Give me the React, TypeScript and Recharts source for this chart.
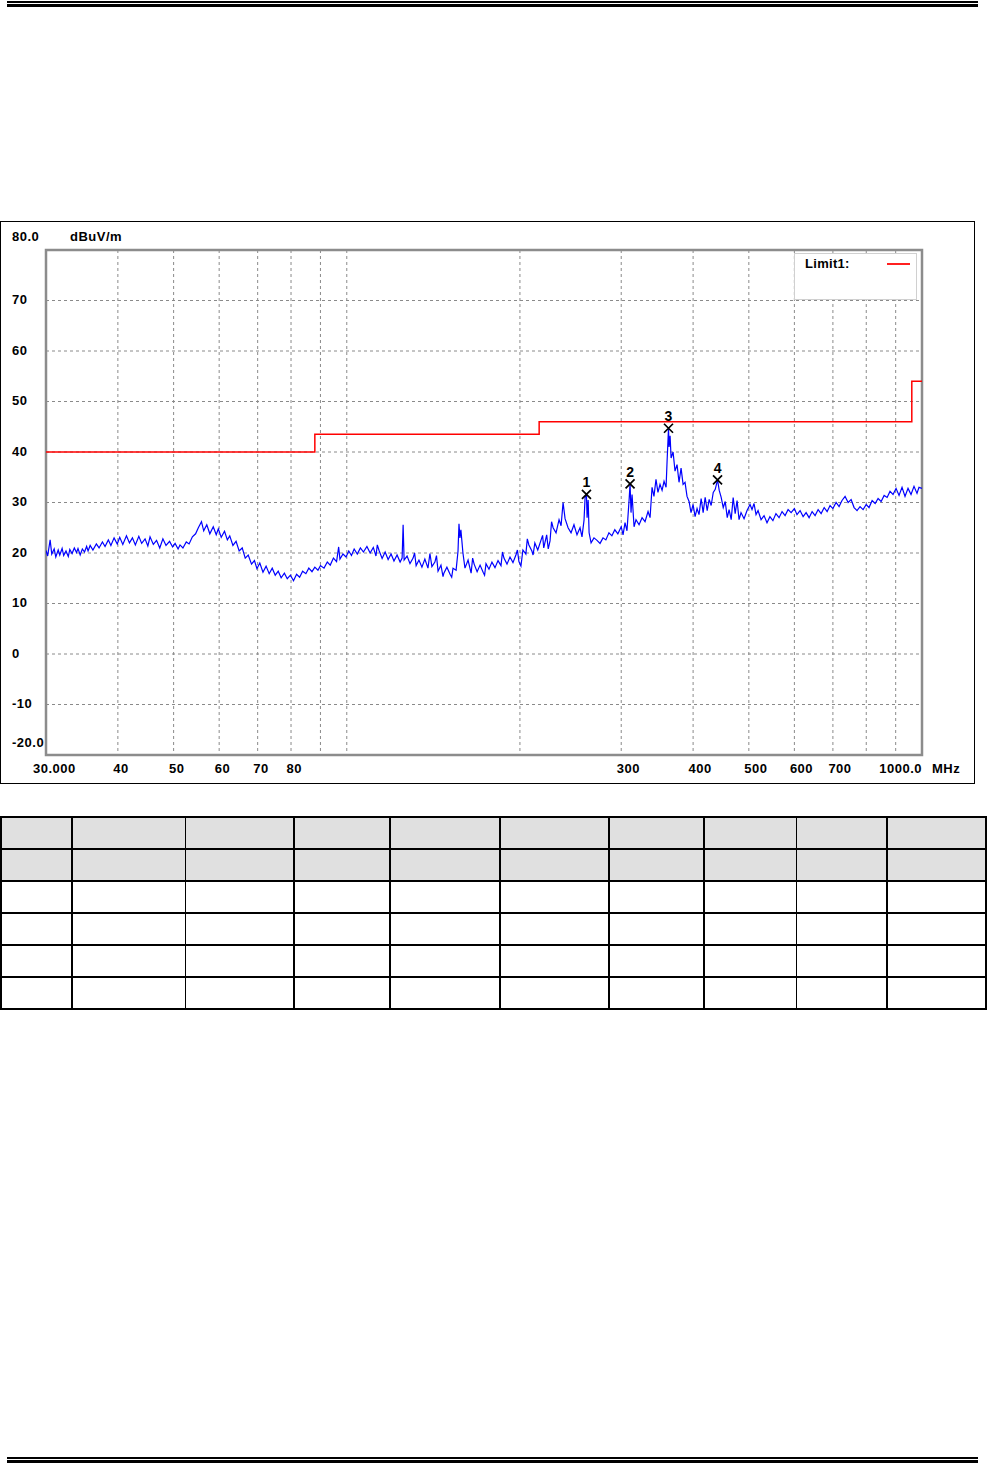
import React from 'react'
import { ComposedChart, Line, Scatter, XAxis, YAxis, CartesianGrid, ReferenceArea } from 'recharts'

// measured sweep, [MHz, dBuV/m]
const trace30to100: [number, number][] = [
  [30.0, 20.5], [30.2, 19.4], [30.5, 22.6], [30.7, 19.8], [31.0, 20.8], [31.2, 19.2], [31.5, 20.6], [31.7, 19.6],
  [32.0, 20.9], [32.2, 19.5], [32.5, 20.4], [32.8, 19.3], [33.0, 20.7], [33.3, 19.9], [33.6, 21.0], [33.9, 20.1],
  [34.1, 20.9], [34.4, 19.6], [34.7, 20.8], [35.0, 20.2], [35.3, 21.3], [35.5, 20.4], [35.8, 21.5], [36.2, 20.6],
  [36.7, 21.8], [37.1, 21.0], [37.6, 22.2], [38.0, 21.3], [38.5, 22.6], [38.9, 21.5], [39.4, 23.0], [39.9, 21.8],
  [40.3, 23.1], [40.8, 21.7], [41.4, 23.4], [41.9, 22.0], [42.4, 23.0], [42.9, 21.6], [43.5, 23.3], [44.0, 21.9],
  [44.6, 22.8], [45.1, 21.4], [45.5, 23.2], [46.1, 21.7], [46.7, 22.5], [47.3, 21.0], [47.9, 22.8], [48.5, 21.5],
  [49.2, 22.3], [49.8, 21.2], [50.3, 21.9], [50.9, 20.8], [51.3, 21.6], [51.9, 21.0], [52.6, 22.2], [53.2, 21.8],
  [53.9, 23.2], [54.6, 23.8], [55.2, 25.0], [55.9, 26.2], [56.4, 24.4], [57.1, 25.6], [57.8, 23.8], [58.6, 25.2],
  [59.3, 23.6], [59.8, 24.8], [60.5, 23.1], [61.3, 24.3], [62.0, 22.6], [62.6, 23.4], [63.4, 21.5], [64.2, 22.3],
  [65.0, 20.4], [65.8, 21.0], [66.6, 19.0], [67.4, 19.6], [68.3, 17.8], [69.1, 18.5], [69.8, 16.9], [70.6, 18.0],
  [71.5, 16.2], [72.4, 17.4], [73.3, 15.9], [74.2, 17.0], [75.1, 15.6], [76.0, 16.4], [76.9, 15.1], [77.9, 16.0],
  [78.8, 14.9], [79.8, 15.6], [80.8, 14.5], [81.8, 15.8], [82.8, 15.2], [83.8, 16.4], [84.9, 15.9], [85.9, 17.0],
  [87.0, 16.3], [88.0, 17.2], [89.1, 16.6], [90.0, 17.5], [91.3, 17.0], [92.5, 18.2], [93.6, 17.6], [94.8, 19.0],
  [96.0, 18.3], [96.8, 21.2], [97.3, 18.8], [98.5, 19.8], [99.7, 19.2],
]

const trace100to300: [number, number][] = [
  [100.8, 20.4], [101.9, 19.5], [103.0, 20.8], [104.3, 19.8], [105.6, 21.0], [106.9, 20.2], [108.4, 21.3], [109.8, 20.0],
  [111.2, 21.1], [112.4, 19.4], [113.0, 21.6], [113.8, 20.5], [115.2, 18.9], [116.6, 20.2], [118.0, 18.7], [119.4, 19.8],
  [120.8, 18.4], [122.3, 19.6], [123.8, 18.2], [124.8, 19.0], [125.3, 25.6], [125.8, 18.6], [127.3, 19.4], [128.8, 17.9],
  [130.4, 19.0], [131.2, 20.0], [132.0, 17.5], [133.5, 18.6], [135.1, 17.2], [136.7, 18.8], [138.4, 17.0], [139.5, 19.9],
  [140.6, 17.3], [142.3, 18.2], [143.2, 19.5], [144.1, 16.4], [145.8, 17.6], [147.0, 15.3], [147.5, 16.0], [149.3, 17.2],
  [151.2, 15.8], [152.2, 15.2], [153.0, 17.0], [154.9, 16.6], [156.1, 20.4], [156.7, 25.8], [157.3, 23.0], [157.9, 24.6],
  [159.2, 20.0], [160.5, 17.0], [162.5, 18.6], [164.5, 16.0], [165.5, 19.0], [166.5, 17.8], [168.5, 16.3], [170.5, 17.6],
  [172.6, 16.2], [173.6, 15.6], [174.6, 17.9], [176.7, 16.8], [178.8, 18.2], [181.0, 17.1], [183.2, 18.5], [185.4, 17.5],
  [186.5, 20.2], [187.6, 19.0], [189.9, 17.8], [192.2, 19.2], [194.5, 18.1], [196.8, 19.6], [198.0, 20.6], [199.2, 18.3],
  [200.8, 17.4], [202.4, 20.6], [204.8, 19.8], [206.0, 22.8], [207.3, 21.6], [209.8, 20.4], [210.8, 19.6], [212.3, 22.0],
  [214.8, 20.6], [217.4, 22.4], [219.0, 23.5], [220.0, 21.0], [222.6, 23.6], [224.0, 20.8], [225.6, 22.4], [227.0, 26.2],
  [228.4, 25.0], [231.1, 24.0], [233.9, 26.6], [235.8, 25.4], [237.7, 30.0], [239.6, 26.8], [242.5, 25.0], [245.4, 24.0],
  [248.3, 25.6], [251.3, 23.6], [254.4, 25.0], [256.4, 23.2], [258.5, 26.5], [259.6, 31.0], [261.0, 31.6], [261.7, 27.0],
  [262.8, 30.5], [263.8, 24.0], [265.9, 22.0], [269.0, 23.0], [272.3, 22.5], [275.6, 21.9], [278.9, 23.0], [282.1, 22.6],
  [285.6, 24.0], [289.0, 23.4], [292.4, 24.6], [296.0, 23.8],
]

const trace300to1000: [number, number][] = [
  [300.0, 25.2], [302.2, 23.6], [304.6, 26.0], [307.0, 24.4], [309.6, 30.5], [310.8, 33.7], [312.0, 28.0], [313.3, 31.6],
  [315.8, 25.2], [318.3, 26.6], [322.2, 25.6], [326.1, 27.0], [330.0, 26.2], [334.0, 28.2], [336.7, 27.0], [339.4, 33.0],
  [342.0, 31.2], [344.8, 34.6], [347.5, 32.0], [350.4, 33.6], [353.3, 32.4], [356.1, 34.2], [359.0, 33.0], [360.4, 38.0],
  [362.5, 44.7], [363.3, 41.0], [364.8, 43.2], [366.3, 38.8], [369.2, 40.0], [372.1, 36.2], [375.1, 37.5], [378.1, 34.0],
  [381.2, 36.8], [384.3, 33.6], [387.3, 34.0], [390.4, 31.2], [393.6, 30.2], [396.7, 28.0], [400.0, 29.6], [403.2, 27.2],
  [406.4, 28.8], [409.6, 27.6], [413.1, 30.8], [416.4, 28.0], [419.8, 31.0], [423.2, 28.4], [426.6, 30.6], [430.0, 29.4],
  [433.6, 32.0], [437.1, 32.6], [441.1, 34.5], [444.1, 32.4], [447.6, 31.0], [451.3, 29.0], [454.9, 30.2], [458.6, 27.0],
  [462.0, 28.6], [465.9, 26.6], [469.6, 31.0], [473.4, 27.8], [477.0, 30.4], [480.8, 26.6], [484.6, 28.0], [490.5, 26.8],
  [496.4, 28.4], [502.4, 29.6], [506.4, 28.6], [510.5, 29.8], [514.6, 27.6], [518.8, 28.4], [525.1, 26.6], [531.4, 27.4],
  [537.7, 26.0], [544.0, 27.2], [550.6, 26.4], [557.3, 27.8], [564.3, 27.0], [571.1, 28.2], [578.1, 27.4], [585.1, 28.6],
  [592.2, 28.0], [600.0, 28.8], [606.3, 27.6], [613.8, 28.4], [621.3, 27.2], [628.8, 28.0], [636.4, 27.0], [644.1, 28.2],
  [651.9, 27.4], [659.8, 28.6], [667.8, 27.8], [676.0, 29.0], [684.0, 28.2], [692.1, 29.4], [700.0, 28.8], [709.0, 30.0],
  [717.5, 29.2], [726.0, 30.4], [735.0, 31.2], [744.0, 30.0], [753.0, 30.6], [762.0, 29.0], [771.0, 28.4], [780.4, 29.2],
  [789.9, 28.6], [800.0, 29.6], [809.0, 29.0], [819.0, 30.4], [829.0, 29.8], [838.8, 30.8], [849.1, 30.2], [859.4, 31.4],
  [869.7, 31.0], [879.8, 32.2], [890.5, 31.6], [901.3, 32.8], [912.2, 31.4], [923.2, 33.0], [934.3, 31.2], [945.6, 32.8],
  [957.0, 31.6], [968.5, 33.2], [980.2, 31.8], [988.0, 33.0], [1000.0, 32.8],
]

// Limit1 (step)
const limitFreq = [30, 88, 216, 960, 1000]
const limitLevel = [40, 43.5, 46, 54, 54]

// peak markers
const markerNo = ['1', '2', '3', '4']
const markerFreq = [261.0, 310.8, 362.5, 441.1]
const markerLevel = [31.6, 33.7, 44.7, 34.5]

const freqTicks = [30, 40, 50, 60, 70, 80, 90, 100, 200, 300, 400, 500, 600, 700, 800, 900, 1000]
const freqLabels: Record<number, string> = {
  30: '30.000', 40: '40', 50: '50', 60: '60', 70: '70', 80: '80',
  300: '300', 400: '400', 500: '500', 600: '600', 700: '700', 1000: '1000.0',
}
const levelTicks = [-20, -10, 0, 10, 20, 30, 40, 50, 60, 70, 80]
const levelLabels: Record<number, string> = { 80: '80.0', [-20]: '-20.0' }

const traceData = [...trace30to100, ...trace100to300, ...trace300to1000].map(([f, v]) => ({ f, v }))
const limitData = limitFreq.map((f, i) => ({ f, v: limitLevel[i] }))
const markerData = markerFreq.map((f, i) => ({ f, v: markerLevel[i], no: markerNo[i] }))

const FONT = '"Liberation Sans", Arial, sans-serif'
const tickText = { fontFamily: FONT, fontSize: 13, fontWeight: 700, fill: '#000', letterSpacing: 0.5 }

function FreqTick(props: any) {
  const { x, y, payload } = props
  const label = freqLabels[payload.value]
  if (!label) return <g />
  if (payload.value === 30) {
    return <text x={x - 13} y={y + 13} dominantBaseline="central" textAnchor="start" {...tickText}>{label}</text>
  }
  if (payload.value === 1000) {
    return (
      <g>
        <text x={x} y={y + 13} dominantBaseline="central" textAnchor="end" {...tickText}>{label}</text>
        <text x={x + 10} y={y + 13} dominantBaseline="central" textAnchor="start" {...tickText}>MHz</text>
      </g>
    )
  }
  return <text x={x - 4.5} y={y + 13} dominantBaseline="central" textAnchor="start" {...tickText}>{label}</text>
}

function LevelTick(props: any) {
  const { y, payload } = props
  const v = payload.value
  const label = levelLabels[v] ?? String(v)
  const dy = v === 80 ? -14 : v === -20 ? -13 : -1
  return (
    <g>
      <text x={11} y={y + dy} dominantBaseline="central" textAnchor="start" {...tickText}>{label}</text>
      {v === 80 && (
        <text x={69} y={y + dy} dominantBaseline="central" textAnchor="start" {...tickText}>dBuV/m</text>
      )}
    </g>
  )
}

function MarkerX(props: any) {
  const { cx, cy, payload } = props
  const s = 4.5
  return (
    <g>
      <path
        d={`M${cx - s},${cy - s}L${cx + s},${cy + s}M${cx + s},${cy - s}L${cx - s},${cy + s}`}
        stroke="#000"
        strokeWidth={1.7}
        fill="none"
      />
      <text x={cx} y={cy - 7} textAnchor="middle" fontFamily={FONT} fontSize={14} fontWeight={700} fill="#000">
        {payload.no}
      </text>
    </g>
  )
}

function Rule({ top }: { top: number }) {
  return (
    <>
      <div style={{ position: 'absolute', left: 7, top, width: 971, height: 1.5, background: '#000' }} />
      <div style={{ position: 'absolute', left: 7, top: top + 3, width: 971, height: 2.5, background: '#000' }} />
    </>
  )
}

// table rule positions (page px)
const tableRows = [817, 849, 881, 913, 945, 977, 1009]
const tableCols = [1, 72, 185, 294, 390, 500, 609, 704, 796, 887, 986]
const thinCols = [185, 796]

export default function App() {
  return (
    <div style={{ position: 'relative', width: 987, height: 1464, fontFamily: FONT, background: '#fff', overflow: 'hidden' }}>
      <style>{'body{margin:0;background:#fff}'}</style>
      <Rule top={1} />

      {/* chart frame */}
      <div
        style={{
          position: 'absolute', left: 0, top: 221, width: 975, height: 563,
          border: '1px solid #000', boxSizing: 'border-box',
        }}
      >
        <ComposedChart width={973} height={561} margin={{ top: 28, right: 52, bottom: 0, left: 0 }}>
          <CartesianGrid stroke="#8a8a8a" strokeDasharray="3 3" />
          <XAxis
            type="number"
            dataKey="f"
            scale="log"
            domain={[30, 1000]}
            allowDataOverflow
            ticks={freqTicks}
            interval={0}
            height={28}
            axisLine={false}
            tickLine={false}
            tickSize={0}
            tickMargin={0}
            tick={<FreqTick />}
          />
          <YAxis
            type="number"
            domain={[-20, 80]}
            allowDataOverflow
            ticks={levelTicks}
            interval={0}
            width={45}
            axisLine={false}
            tickLine={false}
            tickSize={0}
            tickMargin={0}
            tick={<LevelTick />}
          />
          <ReferenceArea x1={30} x2={1000} y1={-20} y2={80} fill="none" stroke="#8c8c8c" strokeWidth={2.5} ifOverflow="visible" />
          <Line data={traceData} dataKey="v" type="linear" stroke="#0000ff" strokeWidth={1.2} dot={false} isAnimationActive={false} />
          <Line data={limitData} dataKey="v" type="stepAfter" stroke="#ff0000" strokeWidth={1.5} dot={false} isAnimationActive={false} />
          <Scatter data={markerData} dataKey="v" shape={<MarkerX />} isAnimationActive={false} />
        </ComposedChart>

        {/* legend */}
        <div
          style={{
            position: 'absolute', left: 793, top: 31, width: 123, height: 47,
            border: '1.5px solid #d0d0d0', boxSizing: 'border-box', background: '#fff',
          }}
        >
          <div style={{ position: 'absolute', left: 10, top: 2, fontSize: 13, fontWeight: 700, letterSpacing: 0.3 }}>Limit1:</div>
          <div style={{ position: 'absolute', left: 92, top: 9, width: 23, height: 2, background: '#ff2020' }} />
        </div>
      </div>

      {/* data table (empty) */}
      <div style={{ position: 'absolute', left: 1, top: tableRows[0], width: 985, height: tableRows[2] - tableRows[0], background: '#e0e0e0' }} />
      {tableRows.map((y) => (
        <div key={'r' + y} style={{ position: 'absolute', left: 0, top: y - 1, width: 987, height: 2, background: '#000' }} />
      ))}
      {tableCols.map((x) => (
        <div
          key={'c' + x}
          style={{
            position: 'absolute', left: thinCols.includes(x) ? x : x - 1, top: tableRows[0] - 1,
            width: thinCols.includes(x) ? 1 : 2, height: tableRows[6] - tableRows[0] + 2, background: '#000',
          }}
        />
      ))}

      <Rule top={1457} />
    </div>
  )
}
